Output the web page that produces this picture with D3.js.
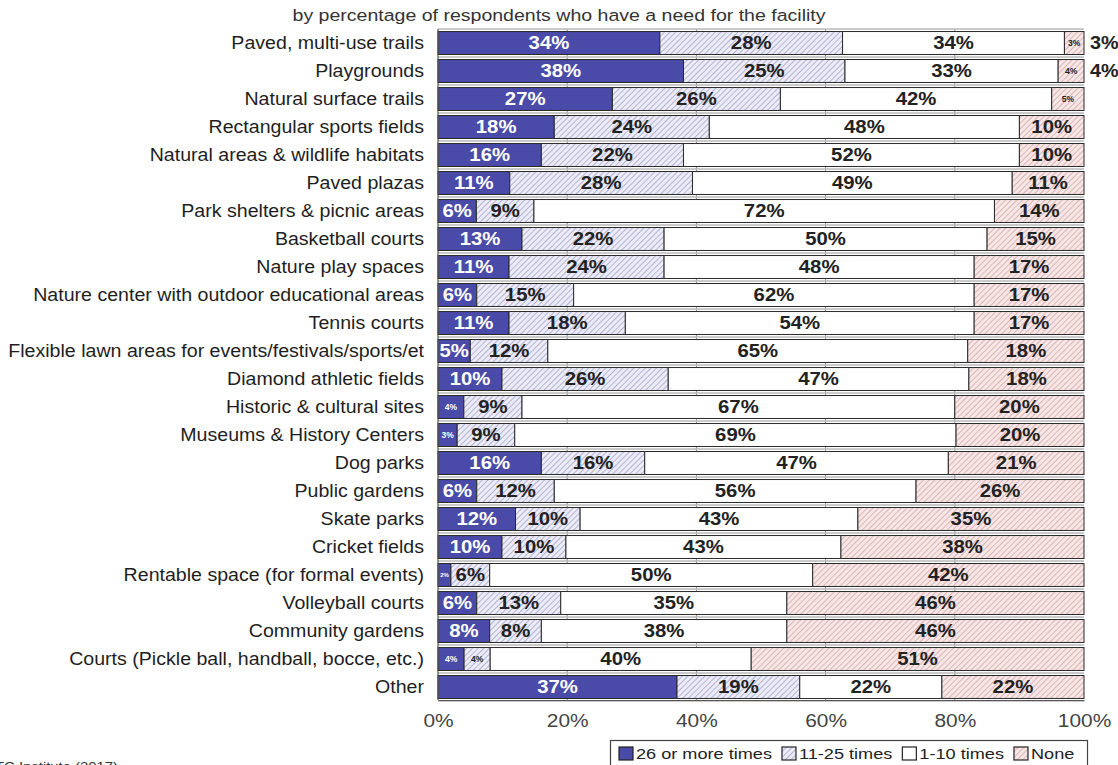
<!DOCTYPE html>
<html><head><meta charset="utf-8">
<script src="https://cdn.jsdelivr.net/npm/d3@7"></script>
<style>body{margin:0;background:#fff;overflow:hidden}text{font-family:Arial,"Liberation Sans",sans-serif}</style>
</head><body><svg id="c" width="1118" height="765"></svg>
<script>
const categories = ["Paved, multi-use trails","Playgrounds","Natural surface trails","Rectangular sports fields","Natural areas & wildlife habitats","Paved plazas","Park shelters & picnic areas","Basketball courts","Nature play spaces","Nature center with outdoor educational areas","Tennis courts","Flexible lawn areas for events/festivals/sports/et","Diamond athletic fields","Historic & cultural sites","Museums & History Centers","Dog parks","Public gardens","Skate parks","Cricket fields","Rentable space (for formal events)","Volleyball courts","Community gardens","Courts (Pickle ball, handball, bocce, etc.)","Other"];
const seriesNames = ["26 or more times","11-25 times","1-10 times","None"];
const s26plus = [34,38,27,18,16,11,6,13,11,6,11,5,10,4,3,16,6,12,10,2,6,8,4,37];
const s11to25 = [28,25,26,24,22,28,9,22,24,15,18,12,26,9,9,16,12,10,10,6,13,8,4,19];
const s1to10  = [34,33,42,48,52,49,72,50,48,62,54,65,47,67,69,47,56,43,43,50,35,38,40,22];
const sNone   = [3,4,5,10,10,11,14,15,17,17,17,18,18,20,20,21,26,35,38,42,46,46,51,22];
const xTicks = [0,20,40,60,80,100];
const outsideLabels = [{row:0,text:"3%"},{row:1,text:"4%"}];
const title = "by percentage of respondents who have a need for the facility";
const source = "Source: ETC Institute (2017)";

const svg = d3.select("#c");
const defs = svg.append("defs");
function hatch(id, bg, line){
  const p = defs.append("pattern").attr("id",id).attr("patternUnits","userSpaceOnUse")
    .attr("width",4).attr("height",4).attr("patternTransform","rotate(45)");
  p.append("rect").attr("width",4).attr("height",4).attr("fill",bg);
  p.append("line").attr("x1",0).attr("y1",0).attr("x2",0).attr("y2",4).attr("stroke",line).attr("stroke-width",1.1);
}
hatch("hBlue","#ececf8","#8585b5");
hatch("hPink","#f8e6e6","#c09090");
const fills = ["#4a4aa8","url(#hBlue)","#ffffff","url(#hPink)"];
const textColors = ["#ffffff","#222","#222","#222"];

// helper: horizontally stretched text
function stext(sel, x, y, sx){
  return sel.append("text").attr("transform",`translate(${x},${y}) scale(${sx},1)`);
}

const L = 438, R = 1084;
const x = d3.scaleLinear().domain([0,100]).range([L,R]);
const y = d3.scaleBand().domain(categories).range([29,701]).paddingInner(0.18).paddingOuter(0.09);
const bw = y.bandwidth();

// vertical gridlines
svg.append("g").selectAll("line").data(xTicks.slice(1,-1)).join("line")
  .attr("x1",d=>x(d)).attr("x2",d=>x(d)).attr("y1",29).attr("y2",700)
  .attr("stroke","#8a8a8a").attr("stroke-width",1);
// gap lines
const gaps = categories.map(c=>y(c)-y.step()*0.09);
gaps.push(y(categories[categories.length-1])+bw+y.step()*0.09);
svg.append("g").selectAll("line").data(gaps).join("line")
  .attr("x1",L).attr("x2",R).attr("y1",d=>d).attr("y2",d=>d)
  .attr("stroke","#b8b8b8").attr("stroke-width",1.5);

const seriesArr = [s26plus,s11to25,s1to10,sNone];
const rows = categories.map((c,i)=>{
  const vals = seriesArr.map(s=>s[i]);
  const tot = d3.sum(vals);
  let cum = 0;
  return vals.map((v,k)=>{ const a=cum; cum+=v; return {cat:c,row:i,k,v,x0:a/tot*100,x1:cum/tot*100}; });
});
const segs = rows.flat();
const g = svg.append("g");
g.selectAll("rect").data(segs).join("rect")
  .attr("x",d=>x(d.x0)).attr("width",d=>x(d.x1)-x(d.x0))
  .attr("y",d=>y(d.cat)).attr("height",bw)
  .attr("fill",d=>fills[d.k]).attr("stroke","#2a2a2a").attr("stroke-width",1);

function labelSize(d){
  const w = x(d.x1)-x(d.x0);
  if (d.v<=2) return 6;
  if (w < 30 || (d.v<=5 && d.k===3)) return 8.5;
  return 18;
}
const lblG = svg.append("g");
segs.forEach(d=>{
  const fs = labelSize(d);
  stext(lblG,(x(d.x0)+x(d.x1))/2, y(d.cat)+bw/2, fs>10?1.13:1.0)
    .attr("dy","0.36em").attr("text-anchor","middle")
    .attr("font-size",fs).attr("font-weight","bold")
    .attr("fill",textColors[d.k]).text(d.v+"%");
});

outsideLabels.forEach(d=>{
  stext(svg,R+6,y(categories[d.row])+bw/2,1.1).attr("dy","0.36em")
    .attr("font-size",18).attr("font-weight","bold").attr("fill","#222").text(d.text);
});

// category labels
const catG = svg.append("g");
categories.forEach(c=>{
  stext(catG,424,y(c)+bw/2,1.12).attr("dy","0.36em").attr("text-anchor","end")
    .attr("font-size",17.5).attr("fill","#1e1e1e").text(c);
});

// axes lines
svg.append("line").attr("x1",L).attr("x2",L).attr("y1",29).attr("y2",700).attr("stroke","#555").attr("stroke-width",1.2);
const ax = svg.append("g").attr("transform","translate(0,700)")
  .call(d3.axisBottom(x).tickValues(xTicks).tickFormat(d=>d+"%").tickSize(0).tickPadding(14));
ax.select(".domain").attr("stroke","#555");
ax.selectAll("text").attr("font-size",19).attr("fill","#444").attr("transform","scale(1.1,1)")
  .attr("font-family","Arial, 'Liberation Sans', sans-serif");

// title
stext(svg,559,21,1.15).attr("text-anchor","middle")
  .attr("font-size",17).attr("fill","#333").text(title);

// source
stext(svg,118,771,1.1).attr("text-anchor","end")
  .attr("font-size",13.5).attr("fill","#333").text(source);

// legend
const lg = svg.append("g");
lg.append("rect").attr("x",610.5).attr("y",740.5).attr("width",477).attr("height",40)
  .attr("fill","#fff").attr("stroke","#444").attr("stroke-width",1.2);
let lx = 619;
seriesNames.forEach((n,k)=>{
  lg.append("rect").attr("x",lx).attr("y",747).attr("width",14).attr("height",13)
    .attr("fill",fills[k]).attr("stroke","#222").attr("stroke-width",1.2);
  const t = stext(lg,lx+17,759,1.17).attr("font-size",15.5).attr("fill","#222").text(n);
  lx += 17 + t.node().getComputedTextLength()*1.17 + 10;
});
</script></body></html>
